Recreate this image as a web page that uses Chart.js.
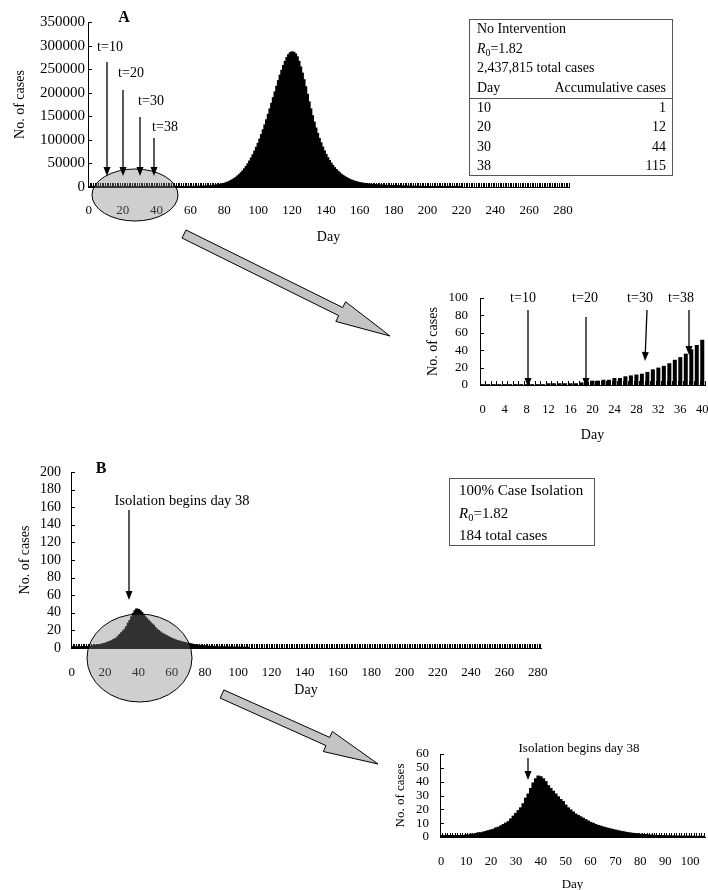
<!DOCTYPE html>
<html>
<head>
<meta charset="utf-8">
<script src="https://cdn.jsdelivr.net/npm/chart.js@4.4.1/dist/chart.umd.min.js"></script>
<style>
  html, body { margin: 0; padding: 0; background: #fff; overflow: hidden; }
  #page { position: relative; width: 708px; height: 890px; font-family: 'Liberation Serif', 'Times New Roman', serif; color: #000; }
  canvas { position: absolute; }
  #overlay { position: absolute; left: 0; top: 0; width: 708px; height: 890px; pointer-events: none; }
  .t { position: absolute; white-space: nowrap; line-height: 1; transform: translateY(-50%); }
  .c { transform: translate(-50%, -50%); }
  .r { transform: translate(-100%, -50%); }
  .box { position: absolute; border: 1px solid #555; box-sizing: border-box; }
  .bold { font-weight: bold; font-size: 16px; }
  sub { font-size: 70%; vertical-align: -3px; line-height: 0; }
</style>
</head>
<body>
<div id="page">
  <canvas id="chartA" width="590" height="250" style="left:0;top:0"></canvas>
  <canvas id="insetA" width="303" height="160" style="left:405px;top:285px"></canvas>
  <canvas id="chartB" width="560" height="245" style="left:0;top:455px"></canvas>
  <canvas id="insetB" width="328" height="155" style="left:380px;top:740px"></canvas>
  <svg id="overlay" xmlns="http://www.w3.org/2000/svg"></svg>

  <!-- panel A -->
  <div class="t c bold" style="left:124px;top:17px">A</div>
  <div class="t c" style="left:110px;top:47px;font-size:14px">t=10</div>
  <div class="t c" style="left:131px;top:73px;font-size:14px">t=20</div>
  <div class="t c" style="left:151px;top:101px;font-size:14px">t=30</div>
  <div class="t c" style="left:165px;top:127px;font-size:14px">t=38</div>

  <div class="box" style="left:469px;top:19px;width:204px;height:157px"></div>
  <div class="box" style="left:469px;top:98px;width:204px;height:1px;border-width:1px 0 0 0"></div>
  <div id="tableA" style="font-size:14px">
    <div class="t" style="left:477px;top:29px">No Intervention</div>
    <div class="t" style="left:477px;top:49px"><i>R</i><sub>0</sub>=1.82</div>
    <div class="t" style="left:477px;top:68px">2,437,815 total cases</div>
    <div class="t" style="left:477px;top:88px">Day</div>
    <div class="t r" style="left:666px;top:88px">Accumulative cases</div>
  </div>

  <div class="t c" style="left:523px;top:298px;font-size:14px">t=10</div>
  <div class="t c" style="left:585px;top:298px;font-size:14px">t=20</div>
  <div class="t c" style="left:640px;top:298px;font-size:14px">t=30</div>
  <div class="t c" style="left:681px;top:298px;font-size:14px">t=38</div>

  <!-- panel B -->
  <div class="t c bold" style="left:101px;top:468px">B</div>
  <div class="t c" style="left:182px;top:500px;font-size:14.5px">Isolation begins day 38</div>
  <div class="box" style="left:449px;top:478px;width:146px;height:68px"></div>
  <div style="font-size:15px">
    <div class="t" style="left:459px;top:490px">100% Case Isolation</div>
    <div class="t" style="left:459px;top:513px"><i>R</i><sub>0</sub>=1.82</div>
    <div class="t" style="left:459px;top:535px">184 total cases</div>
  </div>
  <div class="t c" style="left:579px;top:747px;font-size:13px">Isolation begins day 38</div>
</div>

<script>
// accumulative cases table (panel A)
const tableDays = [10, 20, 30, 38];
const tableAccum = [1, 12, 44, 115];

// daily new cases, no intervention, from day 0
const casesA = [
  1, 1, 1, 1, 1, 1, 1, 1, 1, 1,
  1, 1, 2, 2, 2, 2, 2, 2, 3, 4,
  5, 5, 6, 6, 8, 8, 10, 11, 12, 13,
  15, 18, 20, 22, 25, 29, 32, 36, 41, 46,
  52, 58, 64, 71, 80, 89, 99, 110, 122, 136,
  151, 168, 187, 208, 231, 257, 286, 318, 354, 393,
  437, 486, 540, 600, 667, 741, 824, 916, 1018, 1131,
  1250, 1450, 1700, 2350, 2750, 3200, 3750, 4400, 5150, 6000,
  7000, 8200, 9600, 11200, 13000, 15000, 17300, 19900, 22800, 26000,
  29600, 33600, 38000, 43000, 48500, 54500, 61000, 68000, 75500, 83500,
  92000, 101000, 110500, 120500, 131000, 142000, 153500, 165000, 177000, 189000,
  201000, 213000, 225000, 236500, 247000, 257000, 266000, 274000, 280000, 284000,
  286000, 285000, 281500, 275500, 266000, 254000, 241000, 227000, 212000, 196000,
  180000, 165000, 150500, 137000, 124500, 113000, 102500, 93000, 84000, 76000,
  68500, 61500, 55500, 50000, 45000, 40500, 36500, 32800, 29500, 26500,
  23800, 21400, 19200, 17300, 15600, 14100, 12700, 11500, 10400, 9400,
  8600, 7900, 7250, 6700, 6200, 5750, 5350, 5000, 4650, 4350,
  4050, 3800, 3550, 3300, 3100, 2900, 2700, 2520, 2350, 2200,
  2050, 1900, 1770, 1650, 1540, 1430, 1330, 1240, 1150, 1070,
  990, 920, 850, 790, 730, 680, 630, 580, 540, 500,
  460, 420, 390, 360, 330, 300, 280, 260, 240, 220,
  200, 180, 160, 150, 140, 130, 120, 110, 100, 90
];

// daily new cases, 100% case isolation from day 38
const casesB = [
  1, 1, 1, 1, 1, 1, 1, 1, 1, 1,
  1.5, 1.5, 2, 2, 2.5, 3, 3, 3.5, 4, 4.5,
  5, 5.5, 6.5, 7, 8, 9, 10, 11, 13, 15,
  17, 19, 21, 24, 28, 31, 35, 39, 42, 44,
  43.5, 42, 40, 37, 35, 33, 31, 29, 27, 25.5,
  23, 21, 19.5, 18, 16.5, 15.5, 14.5, 13.5, 12.5, 11.5,
  10.5, 9.8, 9, 8.3, 7.8, 7.2, 6.7, 6.2, 5.8, 5.3,
  4.9, 4.5, 4.1, 3.8, 3.4, 3.1, 2.8, 2.6, 2.4, 2.2,
  2, 1.8, 1.7, 1.5, 1.4, 1.2, 1.1, 1, 1, 0.9,
  0.9, 0.8, 0.8, 0.7, 0.7, 0.6, 0.6, 0.6, 0.5, 0.5,
  0.5, 0.5, 0.4, 0.4, 0.4, 0.4, 0.4
];

const dayTicksMain = [0, 20, 40, 60, 80, 100, 120, 140, 160, 180, 200, 220, 240, 260, 280];
const dayTicksInsetA = [0, 4, 8, 12, 16, 20, 24, 28, 32, 36, 40];
const dayTicksInsetB = [0, 10, 20, 30, 40, 50, 60, 70, 80, 90, 100];
const caseTicksA = [0, 50000, 100000, 150000, 200000, 250000, 300000, 350000];
const caseTicksInsetA = [0, 20, 40, 60, 80, 100];
const caseTicksB = [0, 20, 40, 60, 80, 100, 120, 140, 160, 180, 200];
const caseTicksInsetB = [0, 10, 20, 30, 40, 50, 60];

const SERIF = "'Liberation Serif', 'Times New Roman', serif";

// Excel style marks: a short tick between every day on the baseline, inward ticks on y
const axisMarks = {
  id: 'axisMarks',
  beforeDatasetsDraw(chart) {
    const { ctx, chartArea: a, scales: { x, y } } = chart;
    ctx.save();
    ctx.strokeStyle = '#000';
    ctx.lineWidth = 1;
    ctx.beginPath();
    for (let d = Math.ceil(x.min + 0.5); d <= x.max + 0.5; d++) {
      const px = Math.round(x.getPixelForValue(d - 0.5)) + 0.5;
      ctx.moveTo(px, a.bottom);
      ctx.lineTo(px, a.bottom - 4);
    }
    y.ticks.forEach(t => {
      const py = Math.round(y.getPixelForValue(t.value)) + 0.5;
      ctx.moveTo(a.left, py);
      ctx.lineTo(a.left + 4, py);
    });
    ctx.stroke();
    ctx.restore();
  }
};

function histogram(id, cases, cfg) {
  return new Chart(document.getElementById(id), {
    type: 'bar',
    data: {
      datasets: [{
        data: cases.map((v, day) => ({ x: day, y: v })),
        backgroundColor: '#000',
        borderWidth: 0,
        barPercentage: cfg.barPct,
        categoryPercentage: 1,
        inflateAmount: cfg.inflate,
      }]
    },
    options: {
      responsive: false,
      animation: false,
      events: [],
      layout: { padding: cfg.padding },
      plugins: { legend: { display: false }, tooltip: { enabled: false } },
      scales: {
        x: {
          type: 'linear',
          min: cfg.xRange[0],
          max: cfg.xRange[1],
          offset: false,
          afterBuildTicks: s => { s.ticks = cfg.xTicks.map(v => ({ value: v })); },
          // fixed box so the plot area sits where the figure has it
          afterFit: s => { s.height = cfg.xHeight; s.paddingLeft = 0; s.paddingRight = 0; },
          grid: { display: false, drawTicks: false, offset: false },
          border: { display: true, color: '#000', width: 1 },
          ticks: { color: '#000', font: { family: SERIF, size: cfg.xFont }, padding: cfg.xPad, maxRotation: 0, autoSkip: false, callback: v => String(v) },
          title: { display: true, text: 'Day', color: '#000', font: { family: SERIF, size: cfg.titleFont }, padding: { top: 0, bottom: cfg.dayPad } }
        },
        y: {
          min: 0,
          max: cfg.yTicks[cfg.yTicks.length - 1],
          afterBuildTicks: s => { s.ticks = cfg.yTicks.map(v => ({ value: v })); },
          afterFit: s => { s.width = cfg.yWidth; s.paddingTop = 0; s.paddingBottom = 0; },
          grid: { display: false, drawTicks: false },
          border: { display: true, color: '#000', width: 1 },
          ticks: { color: '#000', font: { family: SERIF, size: cfg.yFont }, padding: cfg.yPad, autoSkip: false, callback: v => String(v) },
          title: { display: true, text: 'No. of cases', color: '#000', font: { family: SERIF, size: cfg.titleFont }, padding: { top: cfg.casesPad, bottom: 0 } }
        }
      }
    },
    plugins: [axisMarks]
  });
}

histogram('chartA', casesA, {
  padding: { left: 0, right: 21, top: 22, bottom: 0 },
  xRange: [-0.5, 283.5], xTicks: dayTicksMain, yTicks: caseTicksA,
  xHeight: 63, yWidth: 88, xFont: 13, yFont: 15, titleFont: 14,
  xPad: 16, yPad: 3, dayPad: 4.6, casesPad: 11.6, barPct: 1, inflate: 0.8
});

histogram('insetA', casesA, {
  padding: { left: 0, right: 3, top: 13, bottom: 0 },
  xRange: [-0.5, 40.5], xTicks: dayTicksInsetA, yTicks: caseTicksInsetA,
  xHeight: 60, yWidth: 75, xFont: 12.5, yFont: 13, titleFont: 14,
  xPad: 17, yPad: 12, dayPad: 1.6, casesPad: 19.6, barPct: 0.73, inflate: 0
});

histogram('chartB', casesB, {
  padding: { left: 0, right: 19, top: 17, bottom: 0 },
  xRange: [-0.5, 282], xTicks: dayTicksMain, yTicks: caseTicksB,
  xHeight: 52, yWidth: 71, xFont: 13, yFont: 14, titleFont: 14,
  xPad: 17, yPad: 10, dayPad: 1.6, casesPad: 16.6, barPct: 1, inflate: 0.8
});

histogram('insetB', casesB, {
  padding: { left: 0, right: 3, top: 14, bottom: 0 },
  xRange: [-0.5, 106], xTicks: dayTicksInsetB, yTicks: caseTicksInsetB,
  xHeight: 58, yWidth: 60, xFont: 12.5, yFont: 13, titleFont: 13,
  xPad: 17, yPad: 11, dayPad: 2.2, casesPad: 13.2, barPct: 1, inflate: 0.6
});

// table rows for panel A
const tableEl = document.getElementById('tableA');
tableDays.forEach((d, i) => {
  const y = 108 + i * 19.3;
  tableEl.insertAdjacentHTML('beforeend',
    `<div class="t" style="left:477px;top:${y}px">${d}</div>` +
    `<div class="t r" style="left:666px;top:${y}px">${tableAccum[i]}</div>`);
});

// overlay: zoom ellipses, pointer arrows, big grey arrows
const svg = document.getElementById('overlay');
function add(tag, attrs) {
  const el = document.createElementNS('http://www.w3.org/2000/svg', tag);
  Object.entries(attrs).forEach(([k, v]) => el.setAttribute(k, v));
  svg.appendChild(el);
  return el;
}
function thinArrow(x1, y1, x2, y2) {
  const len = Math.hypot(x2 - x1, y2 - y1), ux = (x2 - x1) / len, uy = (y2 - y1) / len;
  const bx = x2 - ux * 9, by = y2 - uy * 9;
  add('line', { x1, y1, x2: bx, y2: by, stroke: '#000', 'stroke-width': 1.3 });
  add('polygon', { points: `${x2},${y2} ${bx - uy * 3.5},${by + ux * 3.5} ${bx + uy * 3.5},${by - ux * 3.5}`, fill: '#000' });
}
function bigArrow(sx, sy, tx, ty) {
  const len = Math.hypot(tx - sx, ty - sy), ux = (tx - sx) / len, uy = (ty - sy) / len;
  const nx = -uy, ny = ux, L = 55, w = 4.5, h = 11;
  const bx = tx - ux * L, by = ty - uy * L;
  const pts = [
    [sx + nx * w, sy + ny * w], [bx + nx * w, by + ny * w], [bx + nx * h, by + ny * h], [tx, ty],
    [bx - nx * h, by - ny * h], [bx - nx * w, by - ny * w], [sx - nx * w, sy - ny * w]
  ];
  add('polygon', { points: pts.map(p => p.join(',')).join(' '), fill: '#c4c4c4', stroke: '#000', 'stroke-width': 1 });
}

add('ellipse', { cx: 135, cy: 195, rx: 43, ry: 26, fill: 'rgba(128,128,128,0.38)', stroke: '#000', 'stroke-width': 1 });
add('ellipse', { cx: 139.5, cy: 658, rx: 52.5, ry: 44, fill: 'rgba(128,128,128,0.38)', stroke: '#000', 'stroke-width': 1 });

thinArrow(107, 62, 107, 176);
thinArrow(123, 90, 123, 176);
thinArrow(140, 117, 140, 176);
thinArrow(154, 138, 154, 176);

thinArrow(528, 310, 528, 387);
thinArrow(586, 317, 586, 387);
thinArrow(647, 310, 645, 361);
thinArrow(689, 310, 689, 355);

thinArrow(129, 510, 129, 600);
thinArrow(528, 758, 528, 780);

bigArrow(184, 234, 390, 336);
bigArrow(222, 694, 378, 764);
</script>
</body>
</html>
